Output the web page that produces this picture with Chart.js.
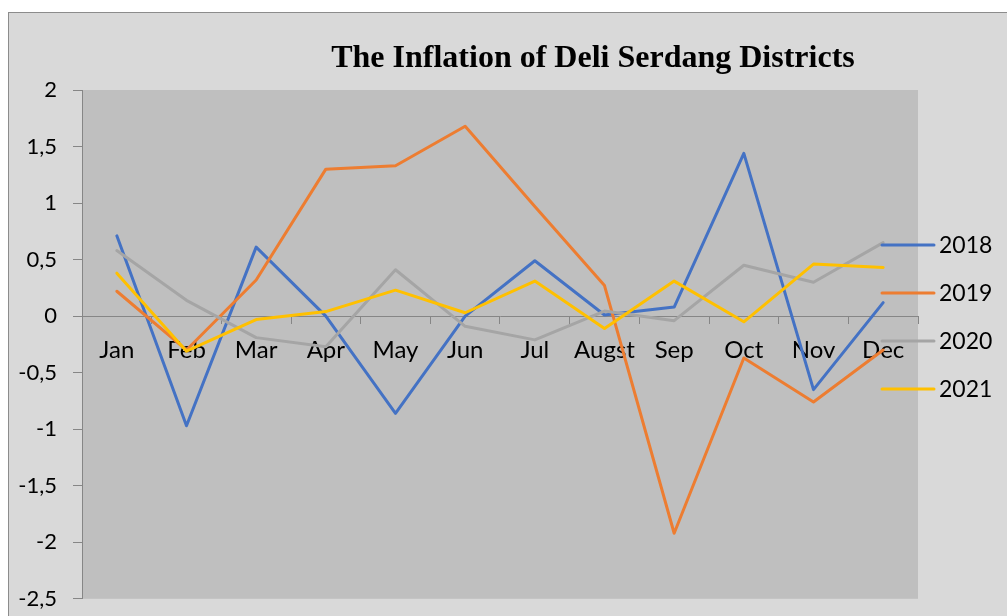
<!DOCTYPE html>
<html><head><meta charset="utf-8">
<script src="https://cdn.jsdelivr.net/npm/chart.js@4/dist/chart.umd.min.js"></script>
<style>
html,body{margin:0;padding:0;background:#fff;overflow:hidden;width:1007px;height:616px}
#frame{position:absolute;left:8px;top:12px;width:1100px;height:700px;background:#d9d9d9;border:1px solid #8c8c8c;box-sizing:border-box}
#wrap{position:absolute;left:0;top:0;width:1007px;height:628px}
</style></head><body>
<div id="frame"></div>
<div id="wrap"><canvas id="c" width="1007" height="628"></canvas></div>
<script>
const titleText = 'The Inflation of Deli Serdang Districts';
const categories = ['Jan','Feb','Mar','Apr','May','Jun','Jul','Augst','Sep','Oct','Nov','Dec'];
const seriesNames = ['2018','2019','2020','2021'];
const s2018 = [0.71,-0.97,0.61,0.00,-0.86,0.00,0.49,0.01,0.08,1.44,-0.65,0.12];
const s2019 = [0.22,-0.30,0.32,1.30,1.33,1.68,0.97,0.27,-1.92,-0.37,-0.76,-0.30];
const s2020 = [0.58,0.14,-0.19,-0.27,0.41,-0.09,-0.21,0.045,-0.04,0.45,0.30,0.65];
const s2021 = [0.38,-0.31,-0.03,0.04,0.23,0.03,0.31,-0.11,0.31,-0.05,0.46,0.43];
const seriesColors = ['#4472c4','#ed7d31','#a5a5a5','#ffc000'];
const yTickValues = [-2.5,-2,-1.5,-1,-0.5,0,0.5,1,1.5,2];
const yTickLabels = ['-2,5','-2','-1,5','-1','-0,5','0','0,5','1','1,5','2'];

const allSeries = [s2018,s2019,s2020,s2021];
const datasets = allSeries.map((d,i)=>({
  label: seriesNames[i], data: d, borderColor: seriesColors[i], backgroundColor: seriesColors[i],
  borderWidth: 3, pointRadius: 0, tension: 0, fill:false,
  borderCapStyle:'round', borderJoinStyle:'round', order: 4 - i
}));

const bgPlugin = {
  id:'bg',
  beforeDraw(chart){
    const {ctx, chartArea:a} = chart;
    ctx.save(); ctx.fillStyle='#bfbfbf';
    ctx.fillRect(a.left, a.top, a.right-a.left, a.bottom-a.top);
    ctx.restore();
  }
};
const decorPlugin = {
  id:'decor',
  afterDraw(chart){
    const ctx = chart.ctx;
    ctx.save();
    ctx.fillStyle='#000';
    ctx.font='bold 32px "Liberation Serif"';
    ctx.textAlign='center'; ctx.textBaseline='alphabetic';
    ctx.fillText(titleText, 593, 67);
    // legend
    ctx.font='23px Lato';
    ctx.textAlign='left'; ctx.textBaseline='middle';
    seriesNames.forEach((n,i)=>{
      const y = 245 + i*48;
      ctx.strokeStyle = seriesColors[i]; ctx.lineWidth=3; ctx.lineCap='round';
      ctx.beginPath(); ctx.moveTo(882,y); ctx.lineTo(934,y); ctx.stroke();
      ctx.fillStyle='#000';
      ctx.fillText(n, 939, y+1);
    });
    ctx.restore();
  }
};

new Chart(document.getElementById('c'), {
  type:'line',
  data:{labels: categories, datasets},
  options:{
    responsive:false, animation:false, devicePixelRatio:1,
    layout:{padding:{left:0, top:90, right:89, bottom:0}},
    plugins:{legend:{display:false}, title:{display:false}, tooltip:{enabled:false}},
    scales:{
      x:{
        type:'category', position:{y:0}, offset:true,
        afterFit(s){ s.height = 0; },
        grid:{drawOnChartArea:false, drawTicks:true, tickLength:7, offset:true, color:'#868686', lineWidth:1},
        border:{display:true, color:'#868686', width:1},
        ticks:{font:{family:'Lato', size:24}, color:'#000', padding:13, maxRotation:0, autoSkip:false}
      },
      y:{
        min:-2.5, max:2,
        afterBuildTicks(s){ s.ticks = yTickValues.map(v=>({value:v})); },
        afterFit(s){ s.width = 82; },
        grid:{drawOnChartArea:false, drawTicks:true, tickLength:9, color:'#868686'},
        border:{display:true, color:'#868686', width:1},
        ticks:{font:{family:'Lato', size:22}, color:'#000', padding:16,
          callback:(v)=>{ const k = yTickValues.indexOf(v); return k>=0 ? yTickLabels[k] : ''; }}
      }
    }
  },
  plugins:[bgPlugin, decorPlugin]
});
</script>
</body></html>
